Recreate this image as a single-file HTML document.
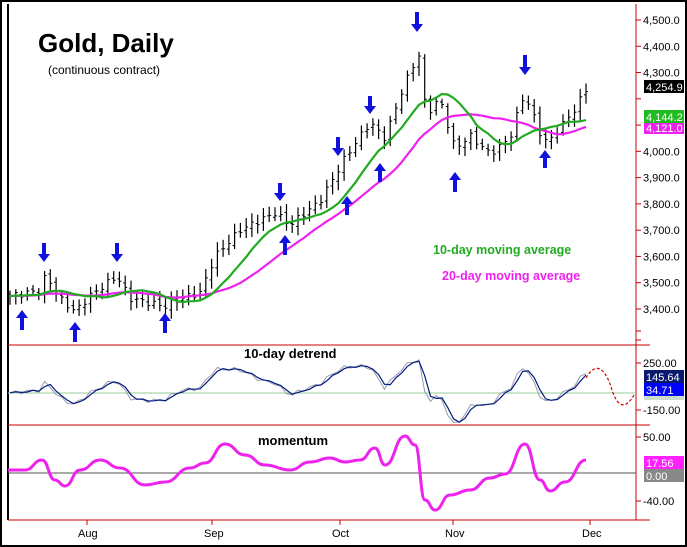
<!DOCTYPE html>
<html><head><meta charset="utf-8"><style>
body{margin:0;background:#fff}
svg{display:block;font-family:"Liberation Sans",Arial,sans-serif}
</style></head><body>
<svg id="c" width="687" height="547" xmlns="http://www.w3.org/2000/svg">
<rect x="1" y="1" width="685" height="545" fill="#fff" stroke="#000" stroke-width="2"/>
<line x1="8" y1="4" x2="8" y2="520" stroke="#000" stroke-width="2"/>
<line x1="636" y1="4" x2="636" y2="520" stroke="#c00" stroke-width="1"/>
<line x1="8" y1="345" x2="636" y2="345" stroke="#c00"/>
<line x1="636" y1="345" x2="650" y2="345" stroke="#c00"/>
<line x1="8" y1="425" x2="650" y2="425" stroke="#c00"/>
<line x1="8" y1="520" x2="650" y2="520" stroke="#c00"/>
<line x1="8" y1="393" x2="636" y2="393" stroke="#9c9" stroke-width="1"/>
<line x1="8" y1="473" x2="636" y2="473" stroke="#555" stroke-width="1"/>
<g id="g"></g>
<text x="38" y="52" font-size="26" font-weight="bold">Gold, Daily</text>
<text x="48" y="74" font-size="12">(continuous contract)</text>
<text x="433" y="254" font-size="12.5" font-weight="bold" fill="#2a2">10-day moving average</text>
<text x="442" y="280" font-size="12.5" font-weight="bold" fill="#e2e">20-day moving average</text>
<text x="244" y="358" font-size="13" font-weight="bold">10-day detrend</text>
<text x="258" y="445" font-size="13" font-weight="bold">momentum</text>
<g font-size="11" fill="#000">
<text x="78" y="537">Aug</text><text x="204" y="537">Sep</text><text x="332" y="537">Oct</text><text x="445" y="537">Nov</text><text x="582" y="537">Dec</text>
</g>
</svg>
<script>
var g=document.getElementById('g'),h='';
function py(p){return 20+(4500-p)*0.2627;}
for(var p=3400;p<=4500;p+=100){var y=py(p);h+='<line x1="636" y1="'+y+'" x2="641" y2="'+y+'" stroke="#c00"/>';
if(p!=4200&&p!=4100) h+='<text x="643" y="'+(y+4)+'" font-size="11">'+(p/1000|0)+','+String(p%1000).padStart(3,'0')+'.0</text>';}
h+='<line x1="636" y1="340" x2="641" y2="340" stroke="#c00"/><line x1="636" y1="331" x2="641" y2="331" stroke="#c00"/>';
[[363,'250.00'],[410,'-150.00']].forEach(function(a){h+='<line x1="636" y1="'+a[0]+'" x2="641" y2="'+a[0]+'" stroke="#c00"/><text x="643" y="'+(a[0]+4)+'" font-size="11">'+a[1]+'</text>';});
[[437,'50.00'],[501,'-40.00']].forEach(function(a){h+='<line x1="636" y1="'+a[0]+'" x2="641" y2="'+a[0]+'" stroke="#c00"/><text x="643" y="'+(a[0]+4)+'" font-size="11">'+a[1]+'</text>';});
[87,212,340,453,590].forEach(function(x){h+='<line x1="'+x+'" y1="520" x2="'+x+'" y2="525" stroke="#c00"/>';});
var K=[[10,3450],[40,3470],[46,3530],[60,3440],[75,3390],[90,3450],[117,3525],[130,3440],[165,3410],[180,3440],[200,3460],[215,3600],[240,3700],[275,3765],[290,3720],[320,3810],[345,3975],[370,4110],[385,4050],[400,4210],[412,4320],[420,4370],[426,4140],[440,4200],[455,4010],[470,4060],[490,3990],[510,4050],[522,4200],[530,4180],[538,4080],[548,4030],[560,4090],[575,4160],[586,4235]];
function ip(x){for(var i=0;i<K.length-1;i++)if(x<=K[i+1][0]){var t=(x-K[i][0])/(K[i+1][0]-K[i][0]);return K[i][1]+t*(K[i+1][1]-K[i][1]);}return K[K.length-1][1];}
var N=101,cl=[],xs=[];
for(var i=0;i<N;i++){var x=10+i*5.76;xs.push(x);cl.push(ip(x)+Math.sin(i*2.3)*12);}
var full=[];for(var i=0;i<20;i++)full.push(3450+Math.sin(i)*10);full=full.concat(cl);
function ma(n){var r=[];for(var i=0;i<N;i++){var s=0;for(var j=0;j<n;j++)s+=full[i+20-j];r.push(s/n);}return r;}
var m10=ma(10),m20=ma(20);
for(var i=0;i<N;i++){var c=cl[i],o=(i?cl[i-1]:c)+Math.cos(i*1.7)*8,hi=Math.max(o,c)+12+Math.abs(Math.sin(i*3.1))*22,lo=Math.min(o,c)-12-Math.abs(Math.cos(i*2.7))*22,x=xs[i].toFixed(1);
h+='<line x1="'+x+'" y1="'+py(hi)+'" x2="'+x+'" y2="'+py(lo)+'" stroke="#000" stroke-width="1.2"/>';
h+='<line x1="'+(xs[i]-2)+'" y1="'+py(o)+'" x2="'+x+'" y2="'+py(o)+'" stroke="#000"/>';
h+='<line x1="'+x+'" y1="'+py(c)+'" x2="'+(xs[i]+2)+'" y2="'+py(c)+'" stroke="#000"/>';}
function pl(arr,f,col,w){var s='';for(var i=0;i<N;i++)s+=(i?'L':'M')+xs[i].toFixed(1)+','+f(arr[i]).toFixed(1);return '<path d="'+s+'" fill="none" stroke="'+col+'" stroke-width="'+w+'"/>';}
h+=pl(m20,py,'#e2e',2.2);h+=pl(m10,py,'#2a2',2.2);
var dt=[];for(var i=0;i<N;i++)dt.push(cl[i]-m10[i]);
var mx=Math.max.apply(null,dt.map(Math.abs));
h+=pl(dt,function(v){return 393-v/mx*33;},'#99a',1);
var dt2=dt.map(function(v,i){return i?(v+dt[i-1])/2:v;});
h+=pl(dt2,function(v){return 393-v/mx*33;},'#001a80',1.2);
h+='<path d="M586,378 C595,362 605,366 612,390 C617,405 624,412 634,395" fill="none" stroke="#c00" stroke-dasharray="3,2" stroke-width="1.2"/>';
var M=[[8,470],[25,470],[42,460],[55,480],[65,486],[80,470],[100,460],[120,468],[145,485],[165,482],[190,468],[205,463],[225,444],[245,455],[265,465],[290,470],[310,462],[330,458],[345,462],[360,460],[375,448],[385,465],[405,436],[415,445],[425,500],[435,510],[450,495],[470,490],[490,478],[505,474],[525,444],[540,480],[550,491],[565,482],[586,460]];
var s='M'+M[0][0]+','+M[0][1];for(var i=1;i<M.length;i++){var a=M[i-1],b=M[i],mxp=(a[0]+b[0])/2;s+=' C'+mxp+','+a[1]+' '+mxp+','+b[1]+' '+b[0]+','+b[1];}
h+='<path d="'+s+'" fill="none" stroke="#e2e" stroke-width="3"/>';
function arr(x,y1,y2){var d=y2>y1?1:-1;h+='<line x1="'+x+'" y1="'+y1+'" x2="'+x+'" y2="'+(y2-d*7)+'" stroke="#11d" stroke-width="4"/><polygon points="'+(x-6)+','+(y2-d*8)+' '+(x+6)+','+(y2-d*8)+' '+x+','+y2+'" fill="#11d"/>';}
[[44,243,262],[117,243,262],[280,183,201],[338,137,156],[370,96,114],[417,12,32],[525,55,75]].forEach(function(a){arr(a[0],a[1],a[2]);});
[[22,330,310],[75,342,322],[165,333,313],[285,255,235],[347,215,196],[380,182,163],[455,192,172],[545,168,150]].forEach(function(a){arr(a[0],a[1],a[2]);});
function box(y,bg,t,fg){h+='<rect x="644" y="'+y+'" width="40" height="13" fill="'+bg+'"/><text x="646" y="'+(y+11)+'" font-size="11" fill="'+fg+'">'+t+'</text>';}
box(121,'#e2e','4,121.0','#fff');box(110,'#2b2','4,144.2','#fff');box(80,'#000','4,254.9','#fff');
box(383,'#00f','34.71','#fff');box(370,'#0a1a6e','145.64','#fff');h+='<rect x="644" y="396" width="40" height="4" fill="#cdc"/>';
box(469,'#888','0.00','#fff');box(456,'#f2f','17.56','#fff');
g.innerHTML=h;
</script>
</body></html>
